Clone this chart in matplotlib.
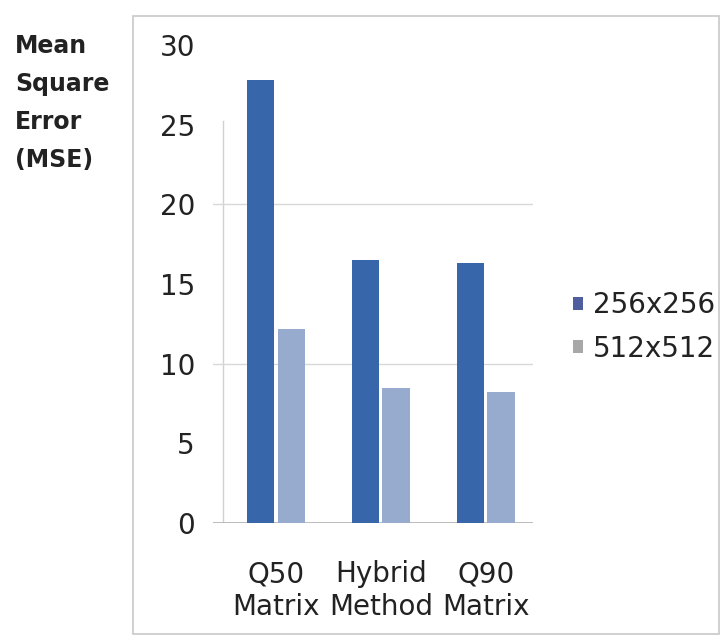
import numpy as np
import matplotlib.pyplot as plt
from matplotlib.patches import Rectangle

# MSE per quantisation method, for the two image sizes
methods = ['Q50\nMatrix', 'Hybrid\nMethod', 'Q90\nMatrix']
mse_256 = [27.8, 16.5, 16.3]
mse_512 = [12.2, 8.5, 8.2]
series = ['256x256', '512x512']
yticks = [0, 5, 10, 15, 20, 25, 30]

W, H = 727, 641
fig = plt.figure(figsize=(W / 100, H / 100), dpi=100)
fig.patch.set_facecolor('white')

# outer chart border
fig.patches.append(Rectangle((133 / W, 1 - 634 / H), (719 - 133) / W, (634 - 16) / H,
                             transform=fig.transFigure, fill=False,
                             edgecolor='#c8c8c8', linewidth=1.2))

ax = fig.add_axes([213 / W, 1 - 523 / H, (533 - 213) / W, (523 - 45) / H])
x = np.arange(len(methods))
w = 0.26
dark = '#3866ab'
light = '#97abcf'
ax.bar(x - w / 2 - 0.015, mse_256, w, color=dark, label=series[0], zorder=3)
ax.bar(x + w / 2 + 0.015, mse_512, w, color=light, label=series[1], zorder=3)

ax.set_xlim(-0.6, 2.45)
ax.set_ylim(0, 30)
ax.set_yticks(yticks)
ax.set_xticks(x)
ax.set_xticklabels(methods, fontsize=20, color='#222222', linespacing=1.2)
ax.tick_params(axis='y', labelsize=20, labelcolor='#222222', length=0, pad=13)
ax.tick_params(axis='x', length=0, pad=27)

for s in ax.spines.values():
    s.set_visible(False)
ax.axhline(0, color='#b0b0b0', linewidth=1.2, zorder=2)
ax.axvline(-0.5, ymin=0, ymax=0.84, color='#d0d0d8', linewidth=1, zorder=1)
for g in [10, 20]:
    ax.axhline(g, color='#d8d8d8', linewidth=1, zorder=1)

fig.text(15 / W, 1 - 34 / H, 'Mean\nSquare\nError\n(MSE)', fontsize=17,
         fontweight='bold', color='#222222', va='top', ha='left', linespacing=1.73)

leg = ax.legend(loc='center left', bbox_to_anchor=(573 / W, 1 - 327 / H),
                bbox_transform=fig.transFigure, frameon=False, fontsize=20,
                handlelength=0.36, handleheight=0.36, handletextpad=0.36,
                labelspacing=0.55, borderpad=0, borderaxespad=0)
leg.legend_handles[0].set_facecolor('#4f5e9c')
leg.legend_handles[1].set_facecolor('#a8a8a8')
for t in leg.get_texts():
    t.set_color('#222222')

fig.savefig('out.png', dpi=100)
